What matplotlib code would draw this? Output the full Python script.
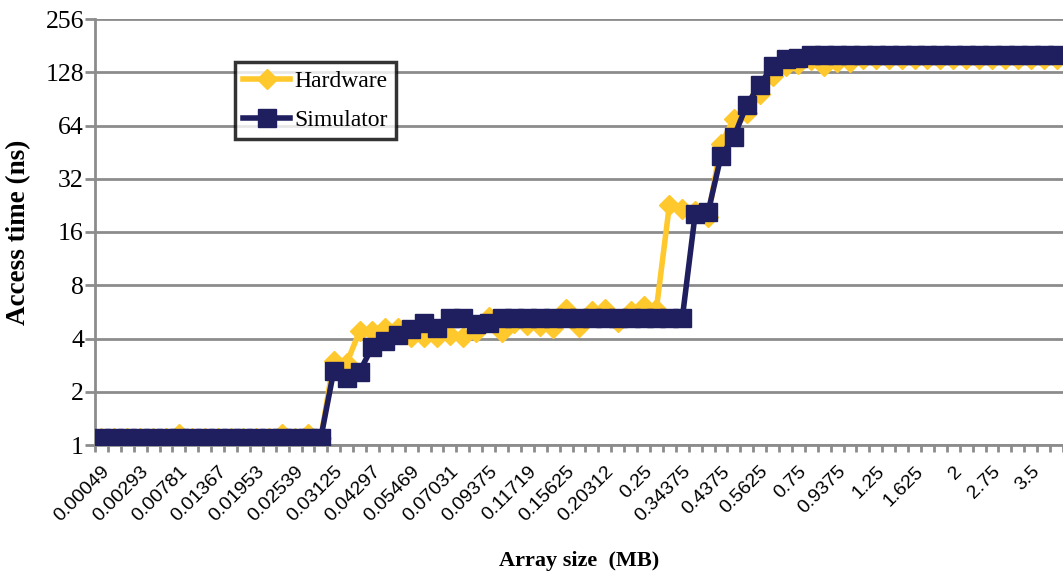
import matplotlib
matplotlib.use("Agg")
import matplotlib.pyplot as plt
from matplotlib.ticker import FixedLocator, NullFormatter

# Array sizes (KB) for each category
sizes_kb = [0.5, 1, 2, 3, 4, 6, 8, 10, 12, 14, 16, 18, 20, 22, 24, 26, 28, 30,
            32, 36, 40, 44, 48, 52, 56, 60, 64, 72, 80, 88, 96, 104, 112, 120,
            128, 144, 160, 176, 192, 208, 224, 240, 256, 288, 320, 352, 384,
            416, 448, 480, 512, 576, 640, 704, 768, 832, 896, 960, 1024, 1152,
            1280, 1408, 1536, 1664, 1792, 1920, 2048, 2304, 2560, 2816, 3072,
            3328, 3584, 3840, 4096]

tick_labels = ["0.00049", "0.00293", "0.00781", "0.01367", "0.01953", "0.02539",
               "0.03125", "0.04297", "0.05469", "0.07031", "0.09375", "0.11719",
               "0.15625", "0.20312", "0.25", "0.34375", "0.4375", "0.5625",
               "0.75", "0.9375", "1.25", "1.625", "2", "2.75", "3.5"]

hardware = [1.10, 1.10, 1.10, 1.10, 1.10, 1.10, 1.15, 1.10, 1.10, 1.10, 1.10, 1.10,
            1.10, 1.10, 1.15, 1.10, 1.15, 1.10,
            3.0, 2.9, 4.4, 4.4, 4.6, 4.6, 4.1, 4.1, 4.1, 4.2, 4.1, 4.35, 5.3,
            4.35, 4.9, 4.76, 4.7, 4.6, 5.9, 4.65, 5.7, 5.9, 4.95, 5.7, 6.1, 5.9,
            22.6, 21.5, 21.0, 19.5, 50, 70, 75, 96, 122, 139, 142, 150, 139,
            147, 147, 153, 153, 153, 153, 153, 153, 153, 153, 153, 153, 153,
            153, 153, 153, 153, 153]

simulator = [1.1] * 18 + [
            2.63, 2.4, 2.6, 3.6, 3.85, 4.2, 4.55, 4.9, 4.6, 5.2, 5.2, 4.8, 4.9,
            5.2, 5.2, 5.2, 5.2, 5.2, 5.2, 5.2, 5.2, 5.2, 5.2, 5.2, 5.2, 5.2,
            5.2, 5.2,
            20.2, 20.7, 43, 55, 84, 108, 139, 153, 155, 160, 160, 161, 161,
            161, 161, 161, 161, 161, 161, 161, 161, 161, 161, 161, 161, 161,
            161, 161, 161]

yticks = [1, 2, 4, 8, 16, 32, 64, 128, 256]

yellow = "#FFC82C"
navy = "#1F1F60"
gray = "#8C8C8C"

fig = plt.figure(figsize=(10.63, 5.79), dpi=100)
ax = fig.add_axes([95 / 1063, 134 / 579, 968 / 1063, 426 / 579])

x = list(range(len(sizes_kb)))
ax.plot(x, hardware, color=yellow, lw=4, marker="D", ms=10.5, mec=yellow,
        mfc=yellow, label="Hardware", zorder=3)
ax.plot(x, simulator, color=navy, lw=4, marker="s", ms=12.5, mec=navy,
        mfc=navy, label="Simulator", zorder=4)

ax.set_yscale("log", base=2)
ax.set_ylim(1, 256)
ax.set_yticks(yticks)
ax.set_yticklabels([str(v) for v in yticks], family="Liberation Serif",
                   fontsize=18.5)
ax.yaxis.set_minor_locator(FixedLocator([]))

ax.set_xlim(-0.5, len(sizes_kb) - 0.5)
ax.set_xticks(x[::3])
ax.set_xticklabels(tick_labels, rotation=45, ha="right", rotation_mode="anchor",
                   family="Liberation Sans", fontsize=14)
ax.xaxis.set_minor_locator(FixedLocator([i - 0.5 for i in range(len(sizes_kb) + 1)]))
ax.xaxis.set_minor_formatter(NullFormatter())
ax.tick_params(axis="x", which="major", length=0, pad=13)
ax.tick_params(axis="x", which="minor", length=5, width=2, color=gray)
ax.tick_params(axis="y", which="major", length=7, width=2, color=gray, pad=1)

ax.grid(axis="y", color=gray, lw=2)
ax.set_axisbelow(True)
for s in ["top", "right"]:
    ax.spines[s].set_visible(False)
for s in ["left", "bottom"]:
    ax.spines[s].set_color(gray)
    ax.spines[s].set_linewidth(2)

ax.set_ylabel("Access time (ns)", family="Liberation Serif", fontweight="bold",
              fontsize=19.5, labelpad=10)
ax.set_xlabel("Array size  (MB)", family="Liberation Serif", fontweight="bold",
              fontsize=16, labelpad=19)

leg = ax.legend(loc="upper left", bbox_to_anchor=((235 - 95) / 968, (445 - 62) / 426),
                frameon=True, fancybox=False, edgecolor="black",
                prop={"family": "Liberation Serif", "size": 17},
                borderaxespad=0, handlelength=2.0, handletextpad=0.15,
                borderpad=0.35, labelspacing=0.75)
leg.get_frame().set_linewidth(2.5)

fig.savefig("out.png", dpi=100)
